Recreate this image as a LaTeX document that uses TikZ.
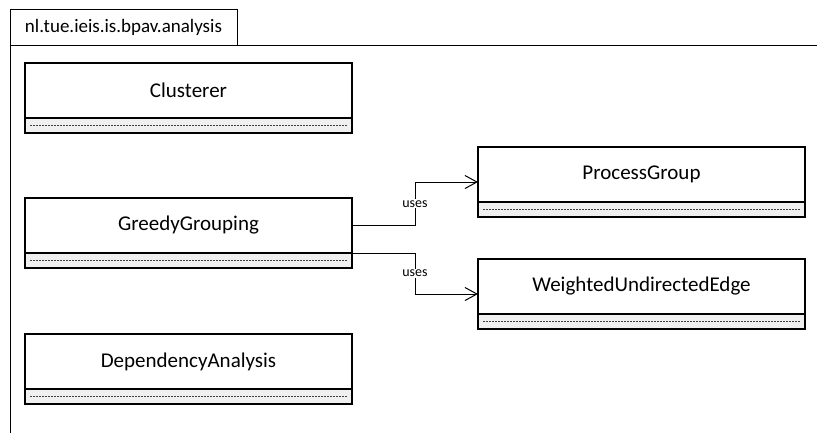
\documentclass[tikz,border=0pt]{standalone}
\usepackage{fontspec}
\setmainfont{Carlito}
\usetikzlibrary{positioning,fit,arrows.meta}

\begin{document}
\begin{tikzpicture}[
    x=1pt, y=-1pt,
    node distance = 0pt,
    line width=1pt,
    outer sep=0pt,
    pkgtab/.style={draw, minimum width=227pt, minimum height=36pt, inner sep=0pt,
        font=\fontsize{19}{23}\selectfont},
    classname/.style={draw, fill=white, minimum width=327pt, minimum height=55pt,
        inner sep=0pt, line width=1.3pt, font=\fontsize{21}{25}\selectfont},
    classattr/.style={draw, fill=gray!12, minimum width=327pt, minimum height=15pt,
        inner sep=0pt, line width=1.3pt,
        path picture={\draw[black!75, line width=0.8pt, dash pattern=on 2pt off 1pt]
            ([xshift=5pt]path picture bounding box.west) -- ([xshift=-5pt]path picture bounding box.east);}},
    uses/.style={-{Straight Barb[length=12pt, width=13pt]}, line width=1pt},
    usestext/.style={fill=white, inner sep=1pt, font=\fontsize{14}{16}\selectfont}]
    \useasboundingbox (0,0) rectangle (817,432);

    % PACKAGE
    \node[pkgtab, anchor=north west] (pkg) at (10,9) {nl.tue.ieis.is.bpav.analysis};
    \draw (pkg.north west) -- (10,440);
    \draw (pkg.south west) -- (830,45);

    % CLASSES
    % left column
    \node[classname, anchor=north west] (C) at (25,63) {Clusterer};
    \node[classattr, below=of C] (Ca) {};
    \node[classname, anchor=north west] (GG) at (25,198) {GreedyGrouping};
    \node[classattr, below=of GG] (GGa) {};
    \node[classname, anchor=north west] (DA) at (25,334) {DependencyAnalysis};
    \node[classattr, below=of DA] (DAa) {};
    % right column
    \node[classname, anchor=north west] (PG) at (478,147) {ProcessGroup};
    \node[classattr, below=of PG] (PGa) {};
    \node[classname, anchor=north west] (WUE) at (478,259) {WeightedUndirectedEdge};
    \node[classattr, below=of WUE] (WUEa) {};
    % whole class outlines
    \node[fit=(PG)(PGa), inner sep=0pt] (PGbox) {};
    \node[fit=(WUE)(WUEa), inner sep=0pt] (WUEbox) {};

    % ARROWS
    \draw[uses] (GG.east) -- ++(63,0) |- (PGbox.west) node[usestext, pos=0.25] {uses};
    \draw[uses] (GG.south east) -- ++(63,0) |- (WUEbox.west) node[usestext, pos=0.25] {uses};
\end{tikzpicture}
\end{document}
